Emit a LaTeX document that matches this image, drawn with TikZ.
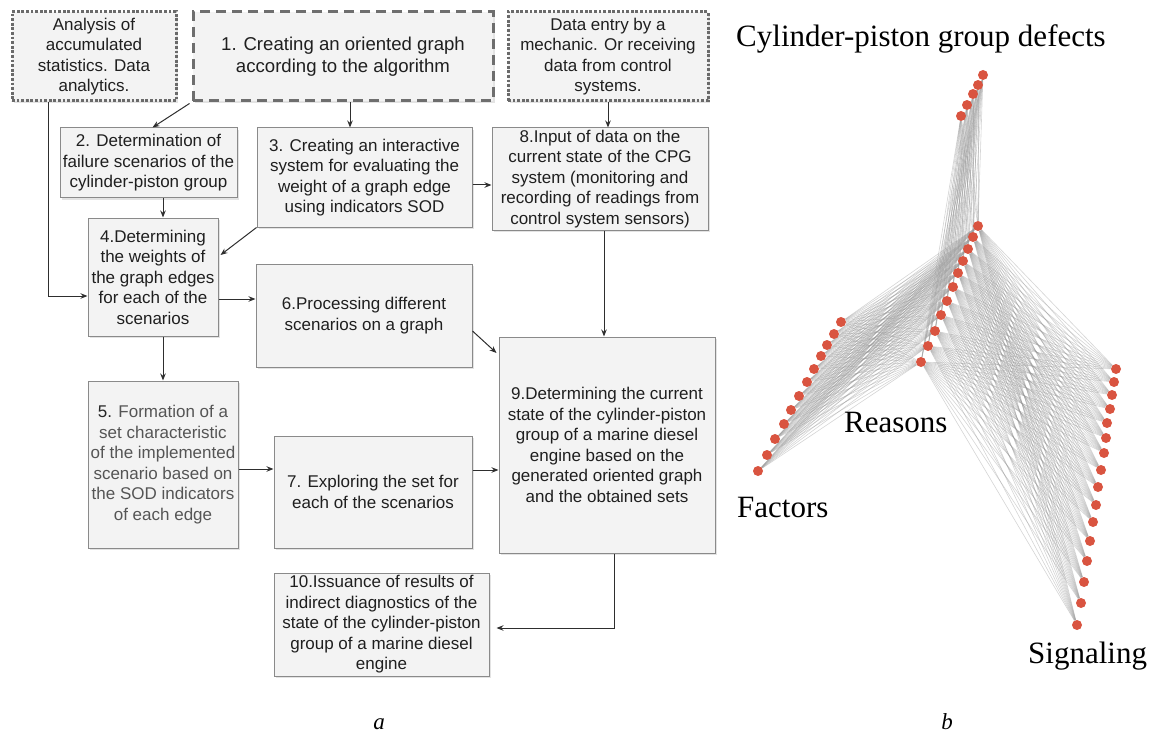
\documentclass[tikz,border=0pt]{standalone}
\usepackage{fontspec}
\setmainfont{Liberation Serif}
\newfontfamily\arialf{Liberation Sans}
\usetikzlibrary{arrows.meta,shadows,calc}
\pgfdeclarelayer{bg}
\pgfsetlayers{bg,main}
\definecolor{boxfill}{HTML}{F3F3F3}
\definecolor{boxline}{HTML}{8A8A8A}
\definecolor{dashline}{HTML}{6E6E6E}
\definecolor{dotline}{HTML}{6A6A6A}
\definecolor{dotred}{HTML}{D95440}
\definecolor{edgegray}{HTML}{9A9A9A}
\definecolor{arrowc}{HTML}{2E2E2E}
\definecolor{softtext}{HTML}{555555}
\begin{document}
\begin{tikzpicture}[x=1pt,y=-1pt,
  sz/.style 2 args={minimum width=#1pt, minimum height=#2pt},
  box/.style={draw=boxline, line width=1pt, fill=boxfill, align=center, inner sep=0pt,
    font=\arialf\fontsize{17}{20.5}\selectfont, text=black!88,
    drop shadow={shadow xshift=1.8pt, shadow yshift=-1.8pt, opacity=0.22}},
  dashbox/.style={box, draw=dashline, line width=3pt, dash pattern=on 10pt off 6pt,
    font=\arialf\fontsize{18.6}{22.5}\selectfont},
  dotbox/.style={box, draw=dotline, line width=3pt, dash pattern=on 2.8pt off 1.8pt},
  arr/.style={draw=arrowc, line width=1pt, -{Stealth[length=7pt,width=5.5pt]}},
  gdot/.style={circle, fill=dotred, inner sep=0pt, minimum size=10pt},
  gedge/.style={draw=edgegray, line width=0.6pt, opacity=0.42},
  glabel/.style={font=\fontsize{31}{36}\selectfont, inner sep=0pt, anchor=base west},
  sublabel/.style={font=\itshape\fontsize{23}{26}\selectfont, inner sep=0pt, anchor=base}
]
\useasboundingbox (0,0) rectangle (1152,733);

% ---------------- flowchart (a) ----------------
\node[dotbox, sz={164}{89}] (A) at (94,56.5) {Analysis of\\accumulated\\statistics. Data\\analytics.};
\node[dashbox, sz={300}{89}] (B1) at (343,56.5) {1. Creating an oriented graph\\according to the algorithm};
\node[dotbox, sz={200}{89}] (C) at (608,56.5) {Data entry by a\\mechanic. Or receiving\\data from control\\systems.};

\node[box, sz={177}{70}] (B2) at (148.5,163) {2. Determination of\\failure scenarios of the\\cylinder-piston group};
\node[box, sz={215}{99}] (B3) at (364.5,177.5) {3. Creating an interactive\\system for evaluating the\\weight of a graph edge\\using indicators SOD};
\node[box, sz={216}{102}] (B8) at (600,179) {8.Input of data on the\\current state of the CPG\\system (monitoring and\\recording of readings from\\control system sensors)};

\node[box, sz={130}{118}] (B4) at (153,277) {4.Determining\\the weights of\\the graph edges\\for each of the\\scenarios};
\node[box, sz={216}{103}] (B6) at (364,315.5) {6.Processing different\\scenarios on a graph};

\node[box, sz={150}{167}, text=softtext] (B5) at (163,464.5) {{\color{black!85}5.} Formation of a\\set characteristic\\of the implemented\\scenario based on\\the SOD indicators\\of each edge};
\node[box, sz={198}{112}] (B7) at (373,492) {7. Exploring the set for\\each of the scenarios};
\node[box, sz={216}{216}] (B9) at (607,445) {9.Determining the current\\state of the cylinder-piston\\group of a marine diesel\\engine based on the\\generated oriented graph\\and the obtained sets};

\node[box, sz={215}{103}] (B10) at (381.5,624.5) {10.Issuance of results of\\indirect diagnostics of the\\state of the cylinder-piston\\group of a marine diesel\\engine};

% connectors
\draw[arr] ([xshift=38pt]A.south west) |- ([yshift=-19pt]B4.west);
\draw[arr] ([xshift=-2pt,yshift=-1pt]B1.south west) -- ([xshift=4pt]B2.north);
\draw[arr] ([xshift=7pt]B1.south) -- ([xshift=7pt]B1.south |- B3.north);
\draw[arr] (C.south) -- (C.south |- B8.north);
\draw[arr] (B2.south -| B5.north) -- (B4.north -| B5.north);
\draw[arr] ([yshift=-7.5pt]B3.east) -- ([yshift=-7.5pt]B3.east -| B8.west);
\draw[arr] (B3.south west) -- ([xshift=2pt,yshift=22pt]B4.east);
\draw[arr] ([yshift=-22pt]B4.east) -- ([yshift=-22pt]B4.east -| B6.west);
\draw[arr] (B4.south -| B5.north) -- (B5.north);
\draw[arr] ([yshift=-15.5pt]B6.east) -- ([xshift=-2pt,yshift=92pt]B9.west);
\draw[arr] ([xshift=4pt]B8.south) -- ([xshift=4pt]B8.south |- B9.north);
\draw[arr] ([yshift=-4.5pt]B5.east) -- ([yshift=-4.5pt]B5.east -| B7.west);
\draw[arr] ([yshift=22pt]B7.east) -- ([yshift=22pt]B7.east -| B9.west);
\draw[arr, shorten >=7pt] ([xshift=7pt]B9.south) |- ([yshift=-3.5pt]B10.east);

\node[sublabel] (la) at (379,729) {a};

% ---------------- graph (b) ----------------
\foreach \n/\x/\y in {1/983/75,2/978/85,3/973/94,4/967/105,5/961/116}
  \node[gdot] (d\n) at (\x,\y) {};
\foreach \n/\x/\y in {1/978/226,2/973/237,3/968/249,4/963/261,5/958/273,6/953/287,
    7/947/301,8/941/315,9/935/331,10/928/346,11/921/362}
  \node[gdot] (r\n) at (\x,\y) {};
\foreach \n/\x/\y in {1/841/322,2/834/334,3/827/345,4/821/356,5/814/369,6/807/382,
    7/799/396,8/791/410,9/784/424,10/775/439,11/767/455,12/758/471}
  \node[gdot] (f\n) at (\x,\y) {};
\foreach \n/\x/\y in {1/1116/369,2/1114/382,3/1112/395,4/1110/409,5/1107/423,6/1106/438,
    7/1104/453,8/1101/470,9/1098/487,10/1096/505,11/1093/522,12/1090/541,
    13/1087/561,14/1084/582,15/1081/603,16/1077/625}
  \node[gdot] (s\n) at (\x,\y) {};

\begin{pgfonlayer}{bg}
  \foreach \i in {1,...,5}
    \foreach \j in {1,...,11}
      \draw[gedge] (d\i) -- (r\j);
  \foreach \i in {1,...,12}
    \foreach \j in {1,...,11}
      \draw[gedge] (f\i) -- (r\j);
  \foreach \i in {1,...,11}
    \foreach \j in {1,...,16}
      \draw[gedge] (r\i) -- (s\j);
\end{pgfonlayer}

\node[glabel] (tdef) at (736,47) {Cylinder-piston group defects};
\node[glabel] (treas) at (844,432) {Reasons};
\node[glabel] (tfac) at (737,517) {Factors};
\node[glabel] (tsig) at (1028,663) {Signaling};

\node[sublabel] (lb) at (947,729) {b};
\end{tikzpicture}
\end{document}
